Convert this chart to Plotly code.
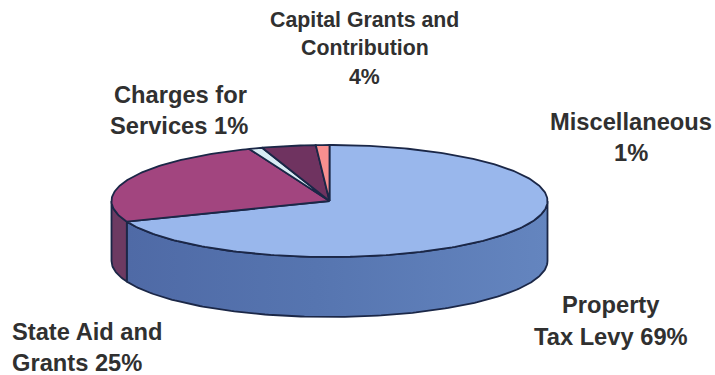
import numpy as np
import plotly.graph_objects as go

# Revenue shares, clockwise from twelve o'clock
categories = ["Property Tax Levy", "State Aid and Grants", "Charges for Services",
              "Capital Grants and Contribution", "Miscellaneous"]
shares = [69, 25, 1, 4, 1]
top_colors = ["#99b7ec", "#a2457f", "#d8ecf4", "#6f3360", "#f88f8f"]
side_colors = ["#5b79b3", "#6d3a62", "#8aa0a8", "#4c2443", "#b06060"]
edge = "#1b2747"

# Disc geometry on a 715x375 canvas
CX, CY, RX, RY, DEPTH = 329.5, 201, 218, 56, 60

# Text lines: string, x, y, horizontal anchor, font size
label_lines = [
    ("Capital Grants and", 364.5, 20, "center", 21.3),
    ("Contribution", 364.5, 48, "center", 21.3),
    ("4%", 364.5, 77, "center", 21.3),
    ("Charges for", 180, 95, "center", 23.7),
    ("Services 1%", 179, 126, "center", 23.7),
    ("Miscellaneous", 631, 122, "center", 23.7),
    ("1%", 631, 153, "center", 23.7),
    ("Property", 611, 305, "center", 23.7),
    ("Tax Levy 69%", 611, 337, "center", 23.7),
    ("State Aid and", 9.5, 332, "left", 23.7),
    ("Grants 25%", 9.5, 363, "left", 23.7),
]


def rim(a0, a1, drop=0.0):
    """Points along the ellipse between two clockwise angles (radians from north)."""
    t = np.linspace(a0, a1, max(int(abs(a1 - a0) * 60), 2))
    return CX + RX * np.sin(t), CY - RY * np.cos(t) + drop


def add_side(fig, a0, a1, color, gradient=None):
    x0, y0 = rim(a0, a1)
    x1, y1 = rim(a1, a0, DEPTH)
    kw = dict(fillgradient=gradient) if gradient else dict(fillcolor=color)
    fig.add_trace(go.Scatter(
        x=np.r_[x0, x1, x0[0]], y=np.r_[y0, y1, y0[0]], mode="lines", fill="toself",
        line=dict(color=edge, width=1.8), hoverinfo="skip", showlegend=False, **kw))


fractions = np.array(shares) / sum(shares)
bounds = np.r_[0, np.cumsum(fractions)] * 2 * np.pi

fig = go.Figure()

# Visible wall: front half of the disc, split where the first two wedges meet
blue_wall = dict(type="horizontal", colorscale=[[0, "#4f6aa6"], [0.45, "#5675b0"], [1, "#6485bf"]])
add_side(fig, np.pi / 2, bounds[1], side_colors[0], blue_wall)
add_side(fig, bounds[1], 1.5 * np.pi, side_colors[1])

# Top face wedges
for i, name in enumerate(categories):
    x, y = rim(bounds[i], bounds[i + 1])
    fig.add_trace(go.Scatter(
        x=np.r_[CX, x, CX], y=np.r_[CY, y, CY], mode="lines", fill="toself", name=name,
        fillcolor=top_colors[i], line=dict(color=edge, width=1.8),
        hoverinfo="name", showlegend=False))

for text, x, y, anchor, size in label_lines:
    fig.add_annotation(x=x, y=y, text=f"<b>{text}</b>", showarrow=False, xanchor=anchor,
                       yanchor="middle", font=dict(family="Liberation Sans", size=size, color="#303030"))

fig.update_xaxes(range=[0, 715], visible=False, fixedrange=True)
fig.update_yaxes(range=[375, 0], visible=False, fixedrange=True)
fig.update_layout(width=715, height=375, margin=dict(l=0, r=0, t=0, b=0),
                  paper_bgcolor="white", plot_bgcolor="white")
fig.write_html("out.html")
